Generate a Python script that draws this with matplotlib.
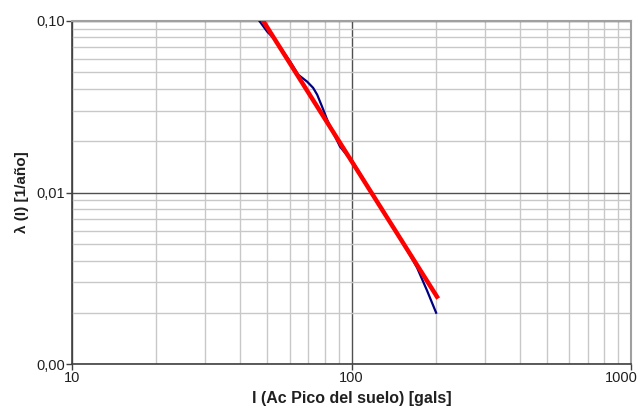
import matplotlib
matplotlib.use("Agg")
import matplotlib.pyplot as plt
from matplotlib.ticker import FixedLocator, FixedFormatter, LogLocator, NullFormatter
from matplotlib.transforms import ScaledTranslation

plt.rcParams['font.family'] = ['Liberation Sans', 'DejaVu Sans']

# curva de amenaza (datos)
I_data = [44.0, 46.7, 49.9, 53.2, 60.3, 64.4, 69.3, 72.8, 75.3, 78.4, 81.7, 85.9,
          90.9, 97.1, 100.0, 120.0, 150.0, 171.4, 186.0, 200.6]
lam_data = [0.115, 0.100, 0.0863, 0.0776, 0.0578, 0.0485, 0.0442, 0.0407, 0.0371,
            0.0316, 0.0266, 0.0223, 0.0185, 0.0162, 0.0155, 0.00955, 0.00537,
            0.00366, 0.0027, 0.0020]

# ajuste
I_fit = [48.2, 202.0]
lam_fit = [0.100, 0.00248]

x_ticks = [10, 100, 1000]
x_labels = ["10", "100", "1000"]
y_ticks = [0.001, 0.01, 0.1]
y_labels = ["0,00", "0,01", "0,10"]

fig = plt.figure(figsize=(6.44, 4.12), dpi=100)
ax = fig.add_axes([0.112, 0.1153, 0.868, 0.8345])

ax.set_xscale("log")
ax.set_yscale("log")
ax.set_xlim(10, 1000)
ax.set_ylim(0.001, 0.1)

ax.plot(I_data, lam_data, color="#000080", lw=1.6, zorder=3)
ax.plot(I_fit, lam_fit, color="#ff0000", lw=3.2, zorder=4)

ax.xaxis.set_major_locator(FixedLocator(x_ticks))
ax.xaxis.set_major_formatter(FixedFormatter(x_labels))
ax.yaxis.set_major_locator(FixedLocator(y_ticks))
ax.yaxis.set_major_formatter(FixedFormatter(y_labels))
ax.xaxis.set_minor_locator(LogLocator(base=10, subs=range(2, 10)))
ax.yaxis.set_minor_locator(LogLocator(base=10, subs=range(2, 10)))
ax.xaxis.set_minor_formatter(NullFormatter())
ax.yaxis.set_minor_formatter(NullFormatter())

ax.grid(which="minor", color="#c8c8c8", lw=1.0, zorder=1)
ax.grid(which="major", color="#505050", lw=1.0, zorder=2)
ax.tick_params(which="minor", length=0)
ax.tick_params(which="major", length=4, width=1, color="#404040", labelsize=10.5,
               labelcolor="#202020", pad=1)

for s in ["left", "bottom"]:
    ax.spines[s].set_color("#404040")
    ax.spines[s].set_linewidth(1.2)
for s in ["top", "right"]:
    ax.spines[s].set_color("#a0a0a0")
    ax.spines[s].set_linewidth(1.5)

# mover "1000" un poco a la izquierda para que no se corte
last = ax.get_xticklabels()[-1]
last.set_transform(last.get_transform() + ScaledTranslation(-7 / 72, 0, fig.dpi_scale_trans))

ax.set_xlabel("I (Ac Pico del suelo) [gals]", fontsize=11.5, fontweight="bold",
              color="#202020", labelpad=4)
ax.set_ylabel("λ (I) [1/año]", fontsize=11, fontweight="bold", color="#202020",
              labelpad=5)

fig.savefig("out.png", dpi=100)
